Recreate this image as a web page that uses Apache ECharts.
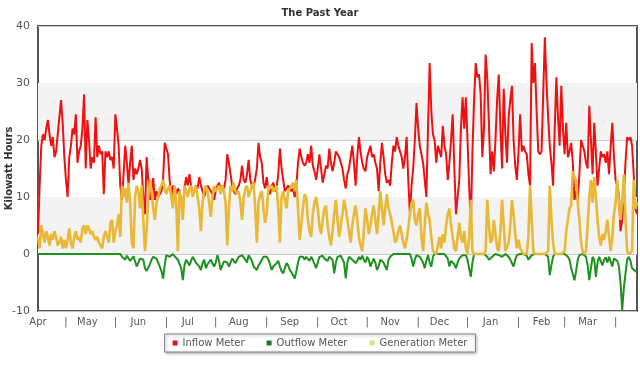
<!DOCTYPE html>
<html>
<head>
<meta charset="utf-8">
<script src="https://cdn.jsdelivr.net/npm/echarts@6/dist/echarts.min.js"></script>
<style>html,body{margin:0;padding:0;background:#fff;}#c{width:640px;height:368px;}</style>
</head>
<body>
<div id="c"></div>
<script>
// Month names and lengths (Apr .. Mar)
const monthNames = ['Apr','May','Jun','Jul','Aug','Sep','Oct','Nov','Dec','Jan','Feb','Mar'];
const monthDays  = [30,31,30,31,31,30,31,30,31,31,28,31];
const midMarkDay = [18,18,18,18,18,18,18,18,18,18,15,18];

// Inflow Meter (kWh per day)
const inflow = [
 3.5,12,19,21,20,22,23.5,21,19,20.5,17,18,21,24,27,23,17,13,10,17,19,22,21,24.5,16,18,19,22,28,15,
 23.5,20,15,17,16,24,17,19,17.5,18,10.5,18,17,18,16.5,17,15,24.5,22,19,12,9.5,14,19,16,12,16,19,13,15,14,
 15,16.5,15,10,7,17,13,9.5,11,13.3,9.5,11,10,10.5,11,13,19.5,18.5,17.5,13,10,12,11.5,10.5,11.5,11,9,7.5,11.5,13.5,
 12,14,12,10.5,11,12,11.5,13.5,12,11,10,11,12,12,11,10.5,9.5,11,12,12.5,11,12,11.5,13,17.5,16,14,12,11,10.5,11.5,
 12,13,15.5,13,12.5,14,16.5,13,12,11.5,11.5,15,19.5,17,16,12.5,11.5,13.5,11,10.5,12,12.5,11,11.5,14,18.5,15,13,11,11.5,12,
 12,11,11.5,10,12,16,18.5,17,16,15.5,16,17.5,16,19,15.5,14.5,13,15,17.5,15,12.5,14,15.5,15,18.5,16,14.5,16,18,17.5,
 17,16,15,13,11.5,14,15,17,19,16,12,17,20.5,18,16,15,14.5,17,18,19,17,17.5,16,15,11,16,19.5,17,14,12.5,13,
 12,16,19,18,20.5,19,19,17,15,17,20.5,13,7,12,15,20,26.5,22,19,19,16,13,10,22,33.5,25,21,20,16,19,
 18,17,22.5,19,17.5,13,16,20,24.5,15,7,10,13,22,27.5,22,27.5,20,12,5,18,27,33.5,31,31.5,28,17,22,35,31,23,
 14,18,14.5,20,27,31.5,22,15,29,21,16,24,27,29.5,20,15.5,13,18,24.5,18,19,18,17.5,14,12,37,30,33.5,25,18,17.5,
 18,28,38,30,24,19,16,12,22,31,24,19,29.5,22,17.5,23,17,18,19.5,16,9.5,11,9.5,14,20,19,18,16,
 15,26,20,14,23,18,12,15,18,17,17.5,16,18,14,19,23,17,13,12,10.5,4,6,10.5,16,20.5,20,20.5,19,14,8,7
];

// Outflow Meter (kWh per day, negative)
const outflow = [
 0,0,0,0,0,0,0,0,0,0,0,0,0,0,0,0,0,0,0,0,0,0,0,0,0,0,0,0,0,0,
 0,0,0,0,0,0,0,0,0,0,0,0,0,0,0,0,0,0,0,0,0,-0.5,-0.8,-1,-0.3,-0.5,-1.2,-1,-0.4,-0.2,-2.2,
 -1.5,-0.8,-0.5,-1,-2.5,-3,-3.1,-1.8,-1,-0.5,-0.3,-0.8,-1.5,-2.2,-3,-4.3,-2,-0.2,-0.5,-0.5,-0.8,0,-0.4,-0.5,-1,-1.2,-2.5,-4.6,-2,-1,
 -1.5,-2,-1.2,-0.5,-1,-1.5,-1.6,-2.2,-2.8,-1.6,-1,-2.5,-1.8,-1.6,-1,-0.8,-2.2,-1.5,-0.2,-1.2,-2.8,-2,-1.3,-1,-1.5,-2.2,-1.5,-0.8,-1,-1.6,-1,
 -0.5,-0.8,-0.2,-0.5,-1,-1.5,-0.2,-0.5,-1.2,-2.2,-2.5,-2.8,-2,-1.6,-1,-0.5,-0.2,-0.5,-1,-1.8,-2.8,-2.2,-2,-1.6,-1.2,-2.2,-3,-3.4,-2.5,-1.6,-2,
 -2.8,-3.2,-3.4,-4.3,-3,-1.5,-0.5,-0.2,-0.5,-1,-0.5,-0.8,-1.2,-0.5,-1,-0.8,-2.5,-1.5,-0.5,-0.2,-0.3,-0.8,-0.6,-1.2,-0.5,-0.6,-1,-3.4,-1.5,-0.5,
 -0.5,-0.3,0,-1.5,-4.3,-1.5,-0.5,-0.5,-1,-0.8,-1.6,-1.2,-0.5,-1,-0.3,-1,-1.5,-0.5,-1,-2.2,-1.5,-0.8,-1.5,-2.8,-2.2,-1,-0.8,-1.5,-2.2,-2.8,-1,
 -0.5,-0.2,0,0,0,-0.1,0,0,0,-0.2,0,-0.1,0,-0.8,-2.2,-1,-0.2,-0.3,-0.5,-0.8,-1.5,-2.5,-1.2,-0.2,-1.5,-2.2,-0.5,0,0,0,
 0,0,0,0,0,-0.8,-2.2,-1.2,-1,-1.8,-2.5,-1.5,-0.8,-0.5,-0.2,-0.3,-0.2,-1,-2.5,-4,-1.5,0,0,0,0,0,0,0,0,-0.5,-1,
 -1,-0.5,-0.2,0,0,-0.2,0,-0.5,-0.3,0,0,-0.5,-1,-0.8,-2.2,-1,-0.2,0,0,0,0,0,-0.3,-1,-0.8,-0.2,0,0,0,0,0,
 0,0,0,0,-0.5,-3.7,-2,-0.5,0,0,0,0,0,0,0,-0.3,-0.5,-1,-2.5,-3.5,-4.6,-3,-1,-0.2,0,0,-0.3,-0.5,
 -2,-4.6,-2.5,-0.5,-1,-4,-1.5,-0.5,-0.8,-2,-1,-0.6,-1.5,-0.5,-0.8,-2.2,-0.8,-0.6,-1.2,-2.2,-5,-9.8,-6,-3.5,-1,-0.5,-1.2,-2.5,-2.8,-3,-3.2
];

// Generation Meter (kWh per day)
const generation = [
 3,1,5,3.5,2,4,3,1.5,3.5,2.5,4,3,1.5,2,3,1,2.5,1,2.5,4.5,2,1,3,4,2.5,3,2,4.5,5,3.5,
 5,4.5,3.5,4,3,2.5,3,2,1.5,1,3,4,3,2,5.5,6,2,4,5,7,3,12,10,11.5,9,12.5,9,2,1,10,12,
 11,8,12,6,0.5,4,10,13,11,8,6,9,10,11.5,12,13,11.5,10.5,11.5,12,10,8,12,9,0.5,11,9.5,6,12,11,
 10,11.5,12,10,11,12,10,8,4,9,11,12,11,9,6.5,10,12,11,11.5,12,10.5,12,11,9,1.5,8,12,11,12.5,11,10.5,
 11,9,6,10,11.5,12,10,11,12,12.5,8,2,9,10.5,11,8,5.5,7,12,11.5,12,11,11.5,12,8,2,10,11,9.5,8,11,
 11.5,12,12.5,11,13,8,2.5,5,8,10.5,10,6,4,3,7,9,10,8,5,3.5,6,8,8.5,5,3,1.5,4,7,9.5,6,
 3,5,7,9.5,8,6,4,2,5,7,8.5,6,3,1.5,0.5,4,8,6,3.5,5,7,8.5,6,3.5,7,11,8,5,8,10.5,8,
 7,5.5,4,2,2.5,4,5,3.5,2,1,2.5,4.5,7,9,9.5,6,5,7,8,3,0.5,5,9,7,6,3,0.5,0.3,0,1.5,
 3,1,3.5,2,5,7,8,5,3,1,0.5,3,5.5,3,2,4,1,0,3,9.5,0.5,0,0,0,0,0,0,0,0.5,9.5,5,
 2,2.5,6,3.5,1,0.5,4,9.5,5,0.5,0.3,2,5,9.5,7,3.5,1,2.5,1,0.5,0,0,0,3,12,6,0.5,0,0,0,0,
 0,0,0,0,0.5,12,6,2,0,0,0,0,0,0,0.5,4,6,8,8.5,14.5,13.5,13,9,6,2,0.5,0,0.5,
 5,10,13,9,13.5,10,6,3,1.5,3.5,2.5,4,6,3,0.5,3,7,9,13,9,6,9,14,6,0.5,0,0,0.5,13,8,9
];

// Shaded background bands (value ranges)
const shadedBands = [[0, 10], [20, 30]];

// Build category list: one entry per day
const categories = [];
monthNames.forEach(function (m, i) {
  for (let d = 1; d <= monthDays[i]; d++) categories.push(m + '-' + d + '-' + i);
});
function parseCat(v) { const p = v.split('-'); return { m: p[0], d: +p[1], i: +p[2] }; }

const chart = echarts.init(document.getElementById('c'));
const FONT = 'DejaVu Sans';
chart.setOption({
  animation: false,
  backgroundColor: '#fff',
  textStyle: { fontFamily: FONT },
  title: {
    text: 'The Past Year', left: 'center', top: 3,
    textStyle: { fontFamily: FONT, fontSize: 10, fontWeight: 'bold', color: '#333' }
  },
  grid: { left: 38, right: 3, top: 26, bottom: 57, containLabel: false, outerBoundsMode: 'none',
          show: true, borderColor: '#555', borderWidth: 2, backgroundColor: 'transparent' },
  legend: {
    top: 334, left: 'center',
    icon: 'rect', itemWidth: 5, itemHeight: 5, itemGap: 22,
    padding: [4, 8, 4, 8],
    borderColor: '#888', borderWidth: 1, backgroundColor: '#fff',
    shadowBlur: 3, shadowColor: 'rgba(0,0,0,0.35)', shadowOffsetX: 1, shadowOffsetY: 1,
    textStyle: { fontFamily: FONT, fontSize: 10, color: '#555' },
    data: ['Inflow Meter', 'Outflow Meter', 'Generation Meter']
  },
  xAxis: {
    type: 'category', data: categories, boundaryGap: false,
    axisLine: { show: false }, axisTick: { show: false },
    splitLine: { show: false },
    axisLabel: {
      color: '#555', fontSize: 10, fontFamily: FONT, margin: 6,
      interval: function (idx, v) { const c = parseCat(v); return c.d === 1 || c.d === midMarkDay[c.i]; },
      formatter: function (v) { const c = parseCat(v); return c.d === 1 ? c.m : '|'; }
    }
  },
  yAxis: {
    type: 'value', min: -10, max: 40, interval: 10,
    name: 'Kilowatt Hours', nameLocation: 'middle', nameGap: 24, nameMoveOverlap: false,
    nameTextStyle: { fontFamily: FONT, fontSize: 10, fontWeight: 'bold', color: '#333' },
    axisLine: { show: false }, axisTick: { show: false },
    axisLabel: { color: '#555', fontSize: 11, fontFamily: FONT, margin: 8 },
    splitLine: { lineStyle: { color: '#c8c8c8', width: 1 } },
    splitArea: { show: false }
  },
  series: [
    { name: 'Inflow Meter', type: 'line', data: inflow, showSymbol: false, symbol: 'none',
      lineStyle: { color: '#ee1111', width: 2 }, itemStyle: { color: '#dd1122' }, z: 2,
      markArea: { silent: true, itemStyle: { color: '#f3f3f3' }, z: 0,
        data: shadedBands.map(function (b) { return [{ yAxis: b[0] }, { yAxis: b[1] }]; }) } },
    { name: 'Outflow Meter', type: 'line', data: outflow, showSymbol: false, symbol: 'none',
      lineStyle: { color: '#1e911e', width: 2 }, itemStyle: { color: '#1e7a1e' }, z: 3 },
    { name: 'Generation Meter', type: 'line', data: generation, showSymbol: false, symbol: 'none',
      lineStyle: { color: '#e8b836', width: 2.6 }, itemStyle: { color: '#e2e27a' }, z: 4 }
  ]
});
</script>
</body>
</html>
